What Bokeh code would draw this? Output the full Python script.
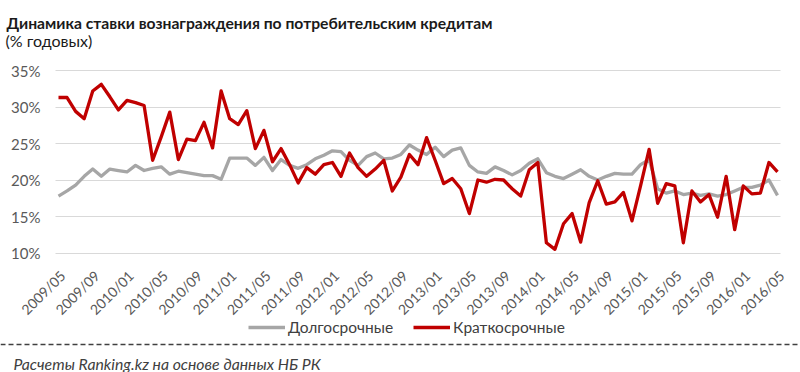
import math
from bokeh.plotting import figure
from bokeh.models import (Range1d, FixedTicker, PrintfTickFormatter, Legend,
                          LegendItem, ColumnDataSource, Label, Span)
from bokeh.embed import file_html
from bokeh.resources import INLINE

# ---- data ----
tick_labels = ["2009/05", "2009/09", "2010/01", "2010/05", "2010/09", "2011/01", "2011/05",
               "2011/09", "2012/01", "2012/05", "2012/09", "2013/01", "2013/05", "2013/09",
               "2014/01", "2014/05", "2014/09", "2015/01", "2015/05", "2015/09", "2016/01",
               "2016/05"]

long_term = [17.8, 18.5, 19.3, 20.5, 21.5, 20.5, 21.5, 21.3, 21.1, 22.0, 21.3, 21.6,
             21.8, 20.8, 21.2, 21.0, 20.8, 20.6, 20.6, 20.1, 23.0, 23.0, 23.0, 22.0,
             23.1, 21.3, 22.8, 22.0, 21.6, 22.1, 22.9, 23.4, 24.0, 23.9, 22.7, 22.0,
             23.2, 23.7, 22.9, 23.0, 23.5, 24.8, 24.1, 23.5, 24.5, 23.2, 24.1, 24.4,
             22.0, 21.1, 20.9, 21.8, 21.3, 20.7, 21.3, 22.3, 22.9, 21.0, 20.5, 20.2,
             20.8, 21.4, 20.5, 20.0, 20.5, 20.9, 20.8, 20.8, 22.1, 22.8, 18.8, 18.2,
             18.5, 18.0, 18.2, 17.9, 18.1, 17.8, 18.0, 18.5, 19.0, 19.0, 19.3, 20.0,
             17.9]

short_term = [31.3, 31.3, 29.4, 28.4, 32.2, 33.1, 31.4, 29.6, 30.9, 30.6, 30.2, 22.7,
              25.9, 29.3, 22.8, 25.6, 25.4, 27.9, 24.4, 32.2, 28.4, 27.6, 29.5, 24.3,
              26.8, 22.5, 24.3, 22.1, 19.6, 21.7, 20.8, 22.1, 22.4, 20.5, 23.7, 21.7,
              20.5, 21.5, 22.7, 18.5, 20.4, 23.5, 22.1, 25.8, 22.7, 19.5, 20.2, 18.8,
              15.4, 20.0, 19.7, 20.1, 20.0, 18.8, 17.8, 21.4, 22.4, 11.4, 10.5, 14.0,
              15.4, 11.5, 16.9, 19.9, 16.7, 17.0, 18.3, 14.4, 19.2, 24.2, 16.8, 19.5,
              19.2, 11.4, 18.5, 17.0, 18.0, 14.9, 20.5, 13.2, 19.2, 18.1, 18.2, 22.4,
              21.1]

y_ticks = [10, 15, 20, 25, 30, 35]
series_names = ["Долгосрочные", "Краткосрочные"]
title_text = "Динамика ставки вознаграждения по потребительским кредитам"
subtitle_text = "(% годовых)"
source_text = "Расчеты Ranking.kz на основе данных НБ РК"

# ---- layout (pixels) ----
W, H = 800, 372
GRID_LEFT, GRID_RIGHT = 55, 780
PLOT_TOP, PLOT_BOTTOM = 70, 252.5
FIRST_PX, LAST_PX = 58, 777
LABEL_SHIFT = 4  # x tick labels sit slightly right of their month
FONT = "Lato"

n = len(long_term)
y_lo, y_hi = min(y_ticks), max(y_ticks)
sx = (LAST_PX - FIRST_PX) / (n - 1)            # px per month
sy = (PLOT_BOTTOM - PLOT_TOP) / (y_hi - y_lo)  # px per percent
x0 = -FIRST_PX / sx
x1 = x0 + W / sx
y1 = y_hi + PLOT_TOP / sy
y0 = y_lo - (H - PLOT_BOTTOM) / sy


def px_x(px):
    return x0 + px / sx


def px_y(py):
    return y1 - py / sy


src = ColumnDataSource(dict(x=list(range(n)), long=long_term, short=short_term))

p = figure(width=W, height=H, output_backend="svg", toolbar_location=None, title=None,
           x_range=Range1d(x0, x1), y_range=Range1d(y0, y1),
           min_border=0, min_border_left=0, min_border_right=0,
           min_border_top=0, min_border_bottom=0)
p.outline_line_color = None
p.extra_x_ranges = {"labels": Range1d(x0 - LABEL_SHIFT / sx, x1 - LABEL_SHIFT / sx)}

r_long = p.line("x", "long", source=src, line_color="#A6A6A6", line_width=3.3,
                line_join="round")
r_short = p.line("x", "short", source=src, line_color="#C00000", line_width=3.3,
                 line_join="round")

# axes, drawn at fixed positions inside the canvas
xa = p.xaxis[0]
xa.x_range_name = "labels"
xa.fixed_location = y_lo
xa.ticker = FixedTicker(ticks=[i * 4 for i in range(len(tick_labels))])
xa.major_label_overrides = {i * 4: lab for i, lab in enumerate(tick_labels)}
xa.major_label_orientation = math.pi / 4
xa.axis_line_color = None
xa.major_tick_line_color = None
xa.major_tick_out = 0
xa.major_tick_in = 0
xa.minor_tick_line_color = None
xa.major_label_text_font = FONT
xa.major_label_text_font_size = "14px"
xa.major_label_text_color = "#595959"
xa.major_label_standoff = 20

ya = p.yaxis[0]
ya.fixed_location = px_x(GRID_LEFT)
ya.ticker = FixedTicker(ticks=y_ticks)
ya.formatter = PrintfTickFormatter(format="%d%%")
ya.axis_line_color = None
ya.major_tick_line_color = None
ya.major_tick_out = 0
ya.major_tick_in = 0
ya.minor_tick_line_color = None
ya.major_label_text_font = FONT
ya.major_label_text_font_size = "15px"
ya.major_label_text_color = "#595959"
ya.major_label_standoff = 15

p.xgrid.grid_line_color = None
p.ygrid.grid_line_color = "#D9D9D9"
p.ygrid.grid_line_width = 1
try:
    p.ygrid.cross_bounds = (px_x(GRID_LEFT), px_x(GRID_RIGHT))
except Exception:
    pass

# titles
p.add_layout(Label(x=px_x(6), y=px_y(22.5), text=title_text, text_font=FONT,
                   text_font_style="bold", text_font_size="15.7px", text_color="#1a1a1a",
                   text_baseline="alphabetic"))
p.add_layout(Label(x=px_x(5), y=px_y(39.5), text=subtitle_text, text_font=FONT,
                   text_font_size="16px", text_color="#1a1a1a",
                   text_baseline="alphabetic"))

# legend
legend = Legend(items=[LegendItem(label=series_names[0], renderers=[r_long]),
                       LegendItem(label=series_names[1], renderers=[r_short])],
                orientation="horizontal", location=(248, H - 337),
                glyph_width=37, glyph_height=20, label_height=20, label_standoff=3,
                spacing=20, padding=0, margin=0, border_line_color=None,
                background_fill_alpha=0, label_text_font=FONT,
                label_text_font_size="15.5px", label_text_color="#404040")
p.add_layout(legend, "center")

# dashed separator and source note
p.add_layout(Span(location=px_y(344), dimension="width", line_color="#404040",
                  line_width=1.5, line_dash="5 3"))
p.add_layout(Label(x=px_x(13), y=px_y(363), text=source_text, text_font=FONT,
                   text_font_style="italic", text_font_size="15.8px", text_color="#404040",
                   text_baseline="alphabetic"))

open("out.html", "w").write(file_html(p, INLINE))
